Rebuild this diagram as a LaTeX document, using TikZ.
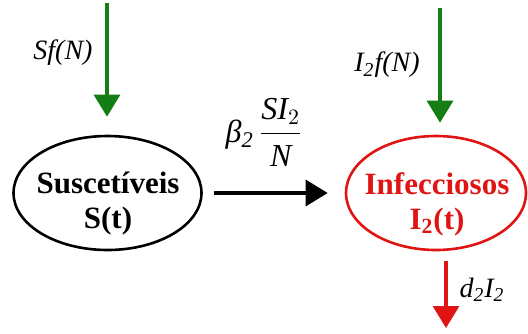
\documentclass[tikz,border=0pt]{standalone}
\usepackage{amsmath}
\usepackage{fontspec}
\setmainfont{Liberation Serif}
\usepackage{tikz}
\usetikzlibrary{arrows.meta,positioning,shapes.geometric}
\definecolor{ink}{RGB}{0,0,0}
\definecolor{flowG}{RGB}{20,125,20}
\definecolor{flowR}{RGB}{225,20,20}
\tikzset{
  comp/.style={ellipse,draw=ink,line width=1.3pt,minimum width=94pt,minimum height=57pt,inner sep=0pt},
  compname/.style={align=center,inner sep=0pt,font=\fontsize{15.5}{17.5}\selectfont\bfseries},
  arr/.style={-{Triangle[length=11pt,width=13pt]},line width=1.6pt},
  rate/.style={font=\fontsize{14}{16}\selectfont\itshape,inner sep=1pt},
}
\begin{document}
\begin{tikzpicture}[x=0.5pt,y=-0.5pt]
\useasboundingbox (0,0) rectangle (528,333);
% compartments
\node[comp] (susc) at (107.5,193) {};
\node[compname] (suscT) at (108,204) {Suscetíveis\\S(t)};
\node[comp,draw=flowR,minimum width=90pt] (infec) at (436,193) {};
\node[compname,text=flowR] (infecT) at (437,204) {Infecciosos\\I\textsubscript{2}(t)};
% inflows
\coordinate (inS) at (107,3);
\coordinate (inI) at (440,8);
\draw[arr,flowG,shorten >=9pt] (inS) -- (inS |- susc.north);
\draw[arr,flowG,shorten >=6pt] (inI) -- (inI |- infec.north);
\node[rate] (lblS) at (63,53) {Sf(N)};
\node[rate] (lblI) at (387,65) {I\textsubscript{2}f(N)};
% infection
\draw[arr,ink,shorten <=5.5pt,shorten >=8.5pt] (susc.east) -- (infec.west);
\node[font=\fontsize{16}{18}\selectfont] (lblB) at (264,132)
  {\itshape β\textsubscript{2}\,$\genfrac{}{}{0.6pt}{0}{\textit{SI}_2}{\textit{N}}$};
% deaths
\coordinate (outI) at (446,328);
\draw[arr,flowR,shorten <=5pt] (outI |- infec.south) -- (outI);
\node[rate] (lblD) at (482,290) {d\textsubscript{2}I\textsubscript{2}};
\end{tikzpicture}
\end{document}
